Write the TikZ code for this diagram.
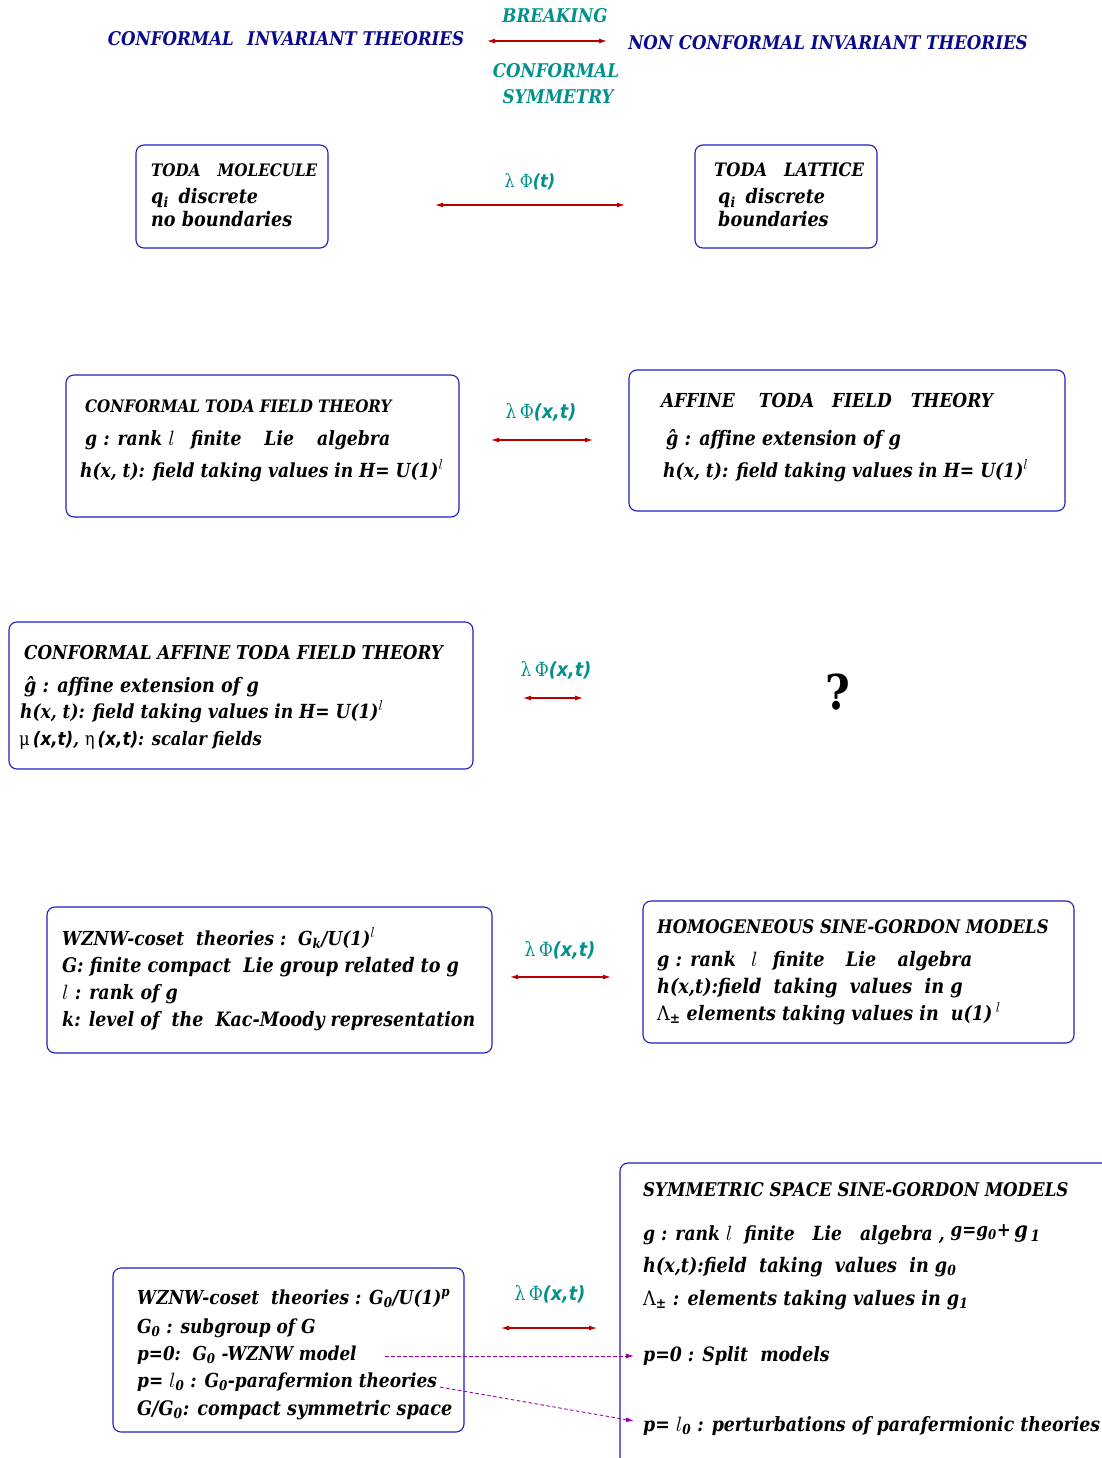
\documentclass[tikz,border=0pt]{standalone}
\usepackage{fontspec}
\setmainfont{DejaVu Serif}[FakeStretch=0.88]
\newfontfamily\lsans{DejaVu Sans}[FakeStretch=0.9]
\usetikzlibrary{arrows.meta}
\definecolor{navy}{RGB}{10,10,140}
\definecolor{tealc}{RGB}{0,145,140}
\definecolor{arrred}{RGB}{185,0,0}
\definecolor{boxblue}{RGB}{30,30,190}
\definecolor{dashpur}{RGB}{160,0,170}
\newcommand\xt{{\lsans\bfseries\itshape(x,t)}}
\newcommand\lamphi[1]{{\mdseries\upshape λ\,Φ}{\lsans\bfseries\itshape#1}}
\newcommand\thl{$l$}
\begin{document}
\begin{tikzpicture}[x=1pt,y=-1pt,
 box/.style={draw=boxblue, line width=1.1pt, rounded corners=8pt, inner sep=0pt},
 txt/.style={anchor=base west, inner sep=0pt, font=\fontsize{#1}{#1}\selectfont\bfseries\itshape},
 txt/.default=19.6,
 hdr/.style={anchor=base, inner sep=0pt, text=navy, font=\fontsize{18.9}{21}\selectfont\bfseries\itshape},
 brk/.style={anchor=base, inner sep=0pt, text=tealc, font=\fontsize{18.9}{21}\selectfont\bfseries\itshape},
 lam/.style={anchor=base, inner sep=0pt, text=tealc, font=\fontsize{19.5}{21}\selectfont},
 dbl/.style={draw=arrred, line width=1.1pt, {Latex[length=8pt,width=5pt]}-{Latex[length=8pt,width=5pt]}},
 dsh/.style={draw=dashpur, line width=0.9pt, dash pattern=on 3.5pt off 2.5pt, -{Latex[length=8pt,width=5pt]}}]
\clip (0,0) rectangle (1102,1458);
\fill[white] (0,0) rectangle (1102,1458);

% header
\node[hdr] (cit) at (286,46) {CONFORMAL\hspace{0.4em} INVARIANT THEORIES};
\node[brk] (brk1) at (555,23) {BREAKING};
\node[brk] (brk2) at (556,78) {CONFORMAL};
\node[brk] (brk3) at (558,104) {SYMMETRY};
\node[hdr] (ncit) at (828,50) {NON CONFORMAL INVARIANT THEORIES};
\coordinate (h1) at (487,41); \coordinate (h2) at (607,41);
\draw[dbl] (h1) -- (h2);

% row 1
\node[box, minimum width=192pt, minimum height=103pt] (bTM) at (232,196.5) {};
\node[txt=17.2] (tm1) at (151,177) {TODA\hspace{1em}MOLECULE};
\node[txt=20] (tm2) at (151,204) {q\textsubscript{i}\hspace{0.5em}discrete};
\node[txt=20] (tm3) at (151,226) {no boundaries};
\node[box, minimum width=182pt, minimum height=103pt] (bTL) at (786,196.5) {};
\node[txt=18.5] (tl1) at (714,177) {TODA\hspace{17pt}LATTICE};
\node[txt=20] (tl2) at (718,204) {q\textsubscript{i}\hspace{0.5em}discrete};
\node[txt=20] (tl3) at (718,226) {boundaries};
\node[lam, font=\fontsize{18}{21}\selectfont] (l1) at (530,187) {{\mdseries\upshape λ\ Φ}{\lsans\bfseries\itshape(t)}};
\coordinate (a1l) at (435,205); \coordinate (a1r) at (625,205);
\draw[dbl] (a1l) -- (a1r);

% row 2
\node[box, minimum width=393pt, minimum height=142pt] (bCT) at (262.5,446) {};
\node[txt=17.2] (ct1) at (85,412) {CONFORMAL TODA FIELD THEORY};
\node[txt] (ct2) at (85,445) {g : rank \thl\ \ \hspace{4pt}finite\ \ \ \hspace{5pt}Lie\ \ \ \hspace{5pt}algebra};
\node[txt=19.4] (ct3) at (80,477) {h(x, t): field taking values in H= U(1)\textsuperscript{\thl}};
\node[box, minimum width=436pt, minimum height=141pt] (bAT) at (847,440.5) {};
\node[txt=19.3] (at1) at (661,407) {AFFINE\hspace{24pt}TODA\hspace{18pt}FIELD\hspace{19pt}THEORY};
\node[txt=20] (at2) at (666,445) {ĝ : affine extension of g};
\node[txt=19.5] (at3) at (663,477) {h(x, t): field taking values in H= U(1)\textsuperscript{\thl}};
\node[lam] (l2) at (541,418) {\lamphi{(x,t)}};
\coordinate (a2l) at (491,440); \coordinate (a2r) at (593,440);
\draw[dbl] (a2l) -- (a2r);

% row 3
\node[box, minimum width=464pt, minimum height=147pt] (bCA) at (241,695.5) {};
\node[txt=19.1] (ca1) at (24,659) {CONFORMAL AFFINE TODA FIELD THEORY};
\node[txt=20] (ca2) at (24,692) {ĝ : affine extension of g};
\node[txt=19.4] (ca3) at (20,718) {h(x, t): field taking values in H= U(1)\textsuperscript{\thl}};
\node[txt=18.6] (ca4) at (19,745) {{\mdseries\upshape μ}\,\xt, {\mdseries\upshape η}\,\xt: scalar fields};
\node[lam] (l3) at (556,676) {\lamphi{(x,t)}};
\coordinate (a3l) at (523,698); \coordinate (a3r) at (583,698);
\draw[dbl] (a3l) -- (a3r);
\node[anchor=base, inner sep=0pt, font=\fontsize{48}{48}\selectfont\bfseries] (qm) at (838,709) {?};

% row 4
\node[box, minimum width=445pt, minimum height=146pt] (bWZ) at (269.5,980) {};
\node[txt=19.3] (wz1) at (62,945) {WZNW-coset\ \ theories :\ \ G\textsubscript{k}/U(1)\textsuperscript{\thl}};
\node[txt=20] (wz2) at (62,972) {G: finite compact\ \ Lie group related to g};
\node[txt=19.8] (wz3) at (62,999) {\thl\ : rank of g};
\node[txt=19.8] (wz4) at (62,1026) {k: level of\ \ the\ \ Kac-Moody representation};
\node[box, minimum width=431pt, minimum height=142pt] (bHS) at (858.5,972) {};
\node[txt=18.7] (hs1) at (657,933) {HOMOGENEOUS SINE-GORDON MODELS};
\node[txt=20] (hs2) at (657,966) {g : rank\ \ \hspace{3pt}\thl\ \ \hspace{3pt}finite\ \ \ \hspace{3pt}Lie\ \ \ \hspace{3pt}algebra};
\node[txt=20.1] (hs3) at (657,993) {h(x,t):field\ \ taking\ \ values\ \ in g};
\node[txt=19.9] (hs4) at (657,1020) {{\mdseries\upshape Λ}\textsubscript{±} elements taking values in\ \ u(1)\,\textsuperscript{\thl}};
\node[lam] (l4) at (560,956) {\lamphi{(x,t)}};
\coordinate (a4l) at (510,977); \coordinate (a4r) at (611,977);
\draw[dbl] (a4l) -- (a4r);

% row 5
\node[box, minimum width=520pt, minimum height=340pt] (bSS) at (880,1333) {};
\node[txt=18.9] (ss1) at (643,1196) {SYMMETRIC SPACE SINE-GORDON MODELS};
\node[txt=19.5] (ss2) at (643,1240) {g : rank \thl\ \ finite\ \ \ Lie\ \ \ algebra , \raisebox{4pt}{\fontsize{19}{19}\selectfont g=g\textsubscript{0}+}\raisebox{3pt}{\fontsize{22}{22}\selectfont\,g\textsubscript{\,1}}};
\node[txt=20] (ss3) at (643,1272) {h(x,t):field\ \ taking\ \ values\ \ in g\textsubscript{0}};
\node[txt=20] (ss4) at (643,1305) {{\mdseries\upshape Λ}\textsubscript{±} : elements taking values in g\textsubscript{1}};
\node[txt=19.7] (ss5) at (643,1361) {p=0 : Split\ \ models};
\node[txt=19.7] (ss6) at (643,1431) {p= \thl\textsubscript{0} : perturbations of parafermionic theories};
\node[box, minimum width=351pt, minimum height=164pt] (bG0) at (288.5,1350) {};
\node[txt=19.3] (g1) at (137,1304) {WZNW-coset\ \ theories : G\textsubscript{0}/U(1)\textsuperscript{p}};
\node[txt=19.3] (g2) at (137,1333) {G\textsubscript{0} : subgroup of G};
\node[txt=19.1] (g3) at (137,1360) {p=0:\ \ G\textsubscript{0} -WZNW model};
\node[txt=19.3] (g4) at (137,1387) {p= \thl\textsubscript{0} : G\textsubscript{0}-parafermion theories};
\node[txt=20] (g5) at (137,1415) {G/G\textsubscript{0}: compact symmetric space};
\node[lam] (l5) at (550,1300) {\lamphi{(x,t)}};
\coordinate (a5l) at (501,1328); \coordinate (a5r) at (597,1328);
\draw[dbl] (a5l) -- (a5r);
\coordinate (d1s) at (385,1356); \coordinate (d1e) at (634,1356);
\coordinate (d2s) at (440,1387); \coordinate (d2e) at (634,1421);
\draw[dsh] (d1s) -- (d1e);
\draw[dsh] (d2s) -- (d2e);
\end{tikzpicture}
\end{document}
